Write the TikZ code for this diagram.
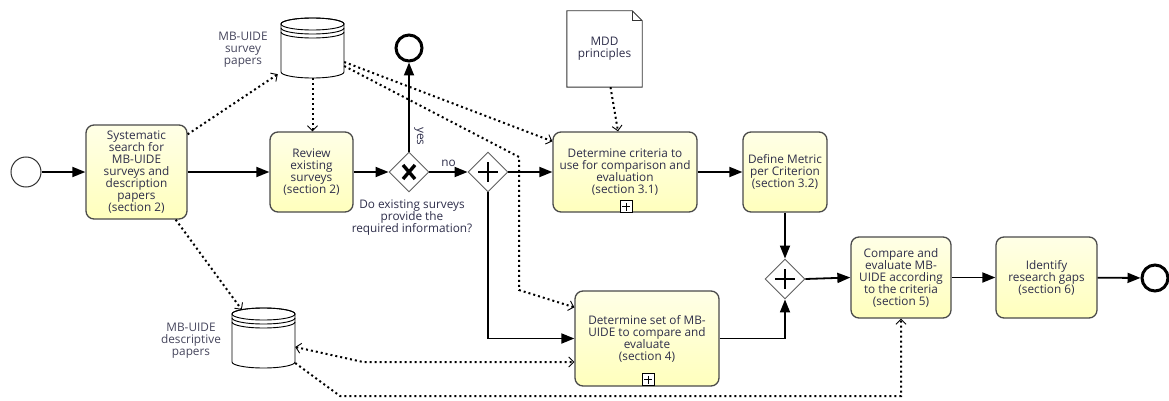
\documentclass[tikz,border=0pt]{standalone}
\usepackage{fontspec}
\setmainfont{Open Sans}
\usetikzlibrary{arrows.meta,shapes.geometric,calc}
\definecolor{txt}{HTML}{2E2E4A}
\definecolor{lbl}{HTML}{45455C}
\definecolor{edge}{HTML}{4A4A4A}
\begin{document}
\begin{tikzpicture}[x=1pt,y=-1pt,
  every node/.style={font=\fontsize{11.8}{12}\selectfont, text=txt},
  task/.style={draw=edge, line width=1.3pt, rounded corners=8pt, top color=white!40!yellow!16, bottom color=yellow!26, align=center, inner sep=0pt},
  gateway/.style={diamond, draw=gray!75!black, line width=0.9pt, fill=white, minimum width=40pt, minimum height=40pt, inner sep=0pt},
  startev/.style={circle, draw=black!80, line width=1pt, minimum size=30pt, inner sep=0pt, fill=white},
  endev/.style={circle, draw=black, line width=3pt, minimum size=26pt, inner sep=0pt, fill=white},
  flow/.style={line width=1.8pt, -{Triangle[length=13pt,width=10pt]}},
  assoc/.style={line width=2pt, dash pattern=on 2pt off 3pt, -{Straight Barb[length=5pt,width=10pt,line width=0.9pt]}},
  assocboth/.style={line width=2pt, dash pattern=on 2pt off 3pt, {Straight Barb[length=5pt,width=10pt,line width=0.9pt]}-{Straight Barb[length=5pt,width=10pt,line width=0.9pt]}},
  lab/.style={align=center, text=lbl},
  datastore/.pic={
    \draw[line width=0.9pt, fill=white] (-31.5,-24) -- (-31.5,24) arc[start angle=180,end angle=0,x radius=31.5,y radius=6] -- (31.5,-24) arc[start angle=0,end angle=-180,x radius=31.5,y radius=6] -- cycle;
    \draw[line width=0.9pt] (0,-24) ellipse[x radius=31.5,y radius=6];
    \draw[line width=0.9pt] (-31.5,-20) arc[start angle=180,end angle=0,x radius=31.5,y radius=6];
    \draw[line width=0.9pt] (-31.5,-16) arc[start angle=180,end angle=0,x radius=31.5,y radius=6];
  },
  submarker/.pic={
    \draw[line width=0.8pt, fill=white] (-6,-6) rectangle (6,6);
    \draw[line width=0.9pt] (-4,0) -- (4,0) (0,-4) -- (0,4);
  }
]
\useasboundingbox (0,0) rectangle (1169,401);

% events
\node[startev] (start) at (26,172) {};
\node[endev] (endtop) at (409,48) {};
\node[endev] (endev) at (1155,278) {};

% tasks
\node[task, minimum width=101pt, minimum height=94pt] (t1) at (136.5,172) {Systematic\\search for\\MB-UIDE\\surveys and\\description\\papers\\(section 2)};
\node[task, minimum width=83pt, minimum height=80pt] (t2) at (311.5,172) {Review\\existing\\surveys\\(section 2)};
\node[task, minimum width=144pt, minimum height=80pt] (t3) at (625,172) {Determine criteria to\\use for comparison and\\evaluation\\(section 3.1)};
\node[task, minimum width=84pt, minimum height=80pt] (t4) at (785,172) {Define Metric\\per Criterion\\(section 3.2)};
\node[task, minimum width=144pt, minimum height=95pt] (t5) at (647,338.5) {Determine set of MB-\\UIDE to compare and\\evaluate\\(section 4)};
\node[task, minimum width=100pt, minimum height=81pt] (t6) at (901,277.5) {Compare and\\evaluate MB-\\UIDE according\\to the criteria\\(section 5)};
\node[task, minimum width=101pt, minimum height=81pt] (t7) at (1046.5,277.5) {Identify\\research gaps\\(section 6)};
\pic at ($(t3.south)+(1,-6)$) {submarker};
\pic at ($(t5.south)+(1,-7)$) {submarker};

% gateways
\node[gateway] (gx) at (409,172) {};
\draw[line width=3.4pt] ($(gx)+(-6,-7)$) -- ($(gx)+(6,7)$) ($(gx)+(6,-7)$) -- ($(gx)+(-6,7)$);
\node[gateway] (gp1) at (488,172) {};
\draw[line width=2.8pt] ($(gp1)+(-10,0)$) -- ($(gp1)+(10,0)$) ($(gp1)+(0,-10)$) -- ($(gp1)+(0,10)$);
\node[gateway] (gp2) at (785,279) {};
\draw[line width=2.8pt] ($(gp2)+(-10,0)$) -- ($(gp2)+(10,0)$) ($(gp2)+(0,-10)$) -- ($(gp2)+(0,10)$);

% data stores and data object
\node[inner sep=0pt, minimum width=63pt, minimum height=60pt] (ds1) at (312.5,48) {};
\pic at (ds1) {datastore};
\node[inner sep=0pt, minimum width=63pt, minimum height=60pt] (ds2) at (263.5,338) {};
\pic at (ds2) {datastore};
\node[inner sep=0pt, minimum width=75pt, minimum height=76pt] (mdd) at (604.5,49) {};
\draw[line width=0.9pt, draw=black!80, fill=white] (mdd.north west) -- ($(mdd.north east)+(-10,0)$) -- ($(mdd.north east)+(0,10)$) -- (mdd.south east) -- (mdd.south west) -- cycle;
\draw[line width=0.9pt, draw=black!80] ($(mdd.north east)+(-10,0)$) -- ($(mdd.north east)+(-10,10)$) -- ($(mdd.north east)+(0,10)$);
\node[align=center] (mddt) at (mdd) {MDD\\principles};

% labels
\node[lab] (l1) at (243,50) {MB-UIDE\\survey\\papers};
\node[lab] (l2) at (191,341) {MB-UIDE\\descriptive\\papers};
\node[align=center] (q) at (412,218) {Do existing surveys\\provide the\\required information?};

% sequence flows
\draw[flow] (start) -- (t1);
\draw[flow] (t1) -- (t2);
\draw[flow] (t2) -- (gx);
\draw[flow] (gx.north) -- (endtop.south) node[pos=0.17, right=1pt, rotate=-90, anchor=south] (yes) {yes};
\draw[flow] (gx.east) -- (gp1.west) node[midway, above=1pt] (no) {no};
\draw[flow] (gp1.east) -- (t3.west);
\draw[flow] (gp1.south) |- (t5.west);
\draw[flow] (t3) -- (t4);
\draw[flow] (t4.south) -- (gp2.north);
\draw[flow] (t5.east) -| (gp2.south);
\draw[flow] (gp2.east) -- (t6.west);
\draw[flow] (t6) -- (t7);
\draw[flow] (t7) -- (endev);

% associations
\coordinate (b4a) at (519,157);
\coordinate (b4b) at (519,290);
\coordinate (b6) at (363,362);
\coordinate (b7) at (340,396);
\draw[assoc] ($(t1.north east)+(0,10)$) -- ($(ds1.south west)+(-3,-4)$);
\draw[assoc] (ds1.south) -- (ds1.south |- t2.north);
\draw[assoc] ($(ds1.east)+(0,14)$) -- ($(t3.north west)+(0,10)$);
\draw[assoc] ($(ds1.east)+(0,18)$) -- (b4a) -- (b4b) -- ($(t5.north west)+(0,17)$);
\draw[assoc] ($(t1.south east)+(-12,0)$) -- ($(ds2.north west)+(10,2)$);
\draw[assocboth] ($(ds2.east)+(0,9)$) -- (b6) -- (b6 -| t5.west);
\draw[assoc] ($(ds2.east)+(0,25)$) -- (b7) -| (t6.south);
\draw[assoc] ($(mdd.south)+(6,0)$) -- ($(t3.north)+(-7,0)$);
\end{tikzpicture}
\end{document}
